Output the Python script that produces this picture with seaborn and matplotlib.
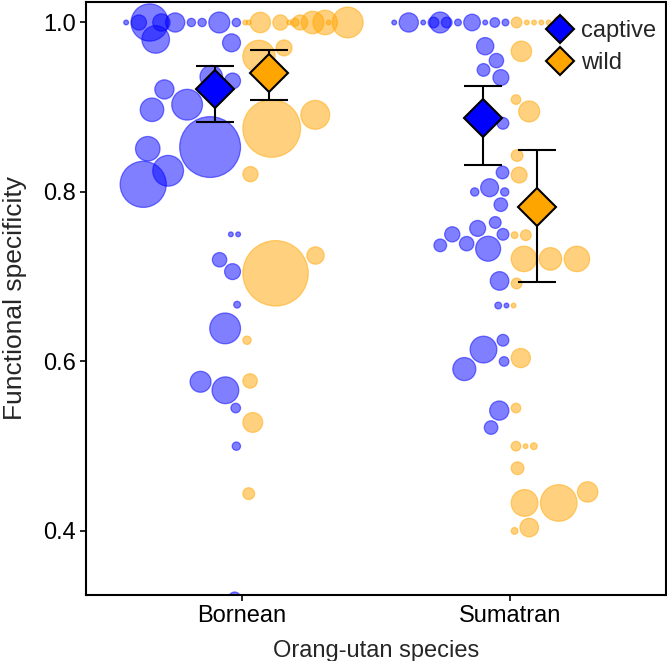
import numpy as np
import pandas as pd
import matplotlib.pyplot as plt
import seaborn as sns
from matplotlib.lines import Line2D

species = ["Bornean", "Sumatran"]
origins = ["captive", "wild"]
palette = {"captive": "#0000ff", "wild": "#ffa500"}

# functional specificity of each individual and its number of records (bubble size)
bornean_captive_fs = [0.750, 0.667, 0.500, 0.545, 1.0, 0.931, 0.706, 0.750, 0.321, 0.639,
                      0.566, 1.0, 0.720, 1.0, 0.976, 1.0, 0.853, 0.936, 0.576, 1.0,
                      0.903, 0.980, 1.0, 0.825, 1.0, 0.921, 1.0, 0.897, 0.851, 0.809, 1.0]
bornean_captive_n = [1, 2, 3, 4, 3, 11, 11, 1, 6, 41,
                     31, 19, 9, 3, 14, 3, 160, 22, 19, 16,
                     41, 33, 10, 41, 13, 16, 60, 24, 26, 92, 1]

bornean_wild_fs = [0.625, 0.444, 0.821, 0.577, 0.528, 1.0, 1.0, 0.960, 0.875, 1.0, 0.704,
                   1.0, 1.0, 0.970, 1.0, 1.0, 1.0, 0.891, 0.725, 1.0, 1.0, 1.0]
bornean_wild_n = [3, 6, 10, 9, 17, 1, 18, 45, 144, 10, 185,
                  3, 22, 11, 1, 41, 1, 36, 13, 26, 10, 1]

sumatran_captive_fs = [0.666, 0.800, 0.600, 1.0, 0.750, 0.881, 0.823, 0.625, 0.785, 0.935,
                       0.695, 0.542, 0.955, 0.764, 0.666, 1.0, 0.805, 0.522, 0.733, 0.972,
                       0.944, 1.0, 0.614, 1.0, 0.757, 0.800, 0.739, 0.591, 1.0, 1.0,
                       0.750, 0.737, 1.0, 1.0, 1.0, 1.0, 1.0]
sumatran_captive_n = [1, 3, 4, 2, 6, 6, 7, 6, 8, 11,
                      15, 16, 9, 6, 2, 4, 14, 8, 27, 13,
                      7, 1, 31, 12, 11, 3, 9, 23, 2, 5,
                      10, 7, 5, 1, 16, 19, 1]

sumatran_wild_fs = [0.666, 0.749, 0.400, 0.500, 0.909, 0.545, 0.692, 1.0, 0.843, 0.474,
                    0.820, 0.604, 0.966, 0.721, 0.749, 0.500, 0.433, 0.895, 1.0, 0.404,
                    0.500, 1.0, 1.0, 1.0, 0.721, 0.433, 1.0, 0.721, 0.446]
sumatran_wild_n = [1, 2, 2, 4, 4, 4, 5, 5, 6, 7,
                   11, 16, 18, 28, 5, 1, 31, 19, 1, 15,
                   2, 1, 1, 1, 22, 58, 7, 28, 18]

# group means with interval limits (Bornean captive, Bornean wild, Sumatran captive, Sumatran wild)
group_mean = [0.921, 0.940, 0.887, 0.782]
group_low = [0.882, 0.908, 0.832, 0.694]
group_high = [0.949, 0.967, 0.925, 0.849]

points = {
    ("Bornean", "captive"): (bornean_captive_fs, bornean_captive_n),
    ("Bornean", "wild"): (bornean_wild_fs, bornean_wild_n),
    ("Sumatran", "captive"): (sumatran_captive_fs, sumatran_captive_n),
    ("Sumatran", "wild"): (sumatran_wild_fs, sumatran_wild_n),
}

sns.set_style("ticks")
plt.rcParams["font.family"] = ["Liberation Sans", "DejaVu Sans"]

fig = plt.figure(figsize=(6.67, 6.61), dpi=100)
ax = fig.add_axes([0.129, 0.1, 0.869, 0.897])
ax.set_xlim(-0.58, 1.58)
ax.set_ylim(0.3245, 1.0242)

area_per_record = 12.0
n_max = max(max(v[1]) for v in points.values())


def swarm_offsets(fs, n, side, half_width=0.455):
    # one-sided bubble swarm: each bubble goes as close to the centre line as it fits
    to_px = ax.transData.transform
    x_scale = to_px((1, 0))[0] - to_px((0, 0))[0]
    ys = np.array([to_px((0, v))[1] for v in fs])
    rs = np.sqrt(area_per_record * np.asarray(n, float)) / 2 * fig.dpi / 72 + 0.45
    limit = half_width * x_scale
    po, py, pr, out = [], [], [], []
    for y, r in zip(ys, rs):
        grid = np.arange(r + 0.7, max(limit - r, r + 0.7) + 0.01, 0.25)
        if po:
            d = np.hypot(grid[:, None] - np.array(po)[None, :], y - np.array(py)[None, :])
            pen = (r + np.array(pr)[None, :] + 1.4 - d).max(axis=1)
            ok = np.nonzero(pen <= 0)[0]
            o = grid[ok[0]] if len(ok) else grid[np.argmin(pen)]
        else:
            o = grid[0]
        po.append(o)
        py.append(y)
        pr.append(r)
        out.append(side * o / x_scale)
    return out


rows = []
for (sp, org), (fs, n) in points.items():
    side = -1 if org == "captive" else 1
    offs = swarm_offsets(fs, n, side)
    for v, k, o in zip(fs, n, offs):
        rows.append({"species": sp, "origin": org, "fs": v, "n": k,
                     "x": species.index(sp) + o})
df = pd.DataFrame(rows)

sns.scatterplot(data=df, x="x", y="fs", hue="origin", hue_order=origins, palette=palette,
                size="n", sizes=(0, area_per_record * n_max), size_norm=(0, n_max),
                alpha=0.5, edgecolor="face", linewidth=0.9, legend=False, ax=ax, zorder=2)

i = 0
for sp in species:
    for org in origins:
        xpos = species.index(sp) + (-0.1 if org == "captive" else 0.1)
        m = group_mean[i]
        ax.errorbar(xpos, m, yerr=[[m - group_low[i]], [group_high[i] - m]], fmt="D",
                    ms=19, mfc=palette[org], mec="black", mew=1.5, ecolor="black",
                    elinewidth=1.5, capsize=14, capthick=1.5, zorder=5)
        i += 1

handles = [Line2D([], [], marker="D", ls="none", ms=14, mfc=palette[o], mec="black", mew=1.5)
           for o in origins]
ax.legend(handles, origins, loc="upper right", bbox_to_anchor=(1.0, 0.985), frameon=False,
          fontsize=17, handletextpad=0.3, borderaxespad=0, labelspacing=0.42, handlelength=1.2)

ax.set_xticks([0, 1])
ax.set_xticklabels(species)
ax.set_yticks([0.4, 0.6, 0.8, 1.0])
ax.tick_params(length=4.5, width=1.2, labelsize=17, pad=3, colors="black")
for s in ax.spines.values():
    s.set_linewidth(1.5)
    s.set_color("black")
ax.set_xlabel("Orang-utan species", fontsize=17, labelpad=9)
ax.set_ylabel("Functional specificity", fontsize=19, labelpad=11)

fig.savefig("out.png", dpi=100)
